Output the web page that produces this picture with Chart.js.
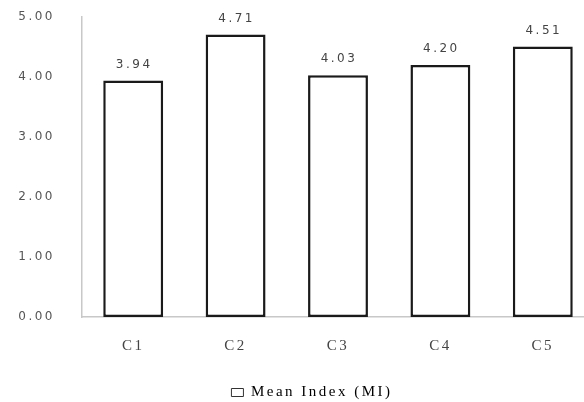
<!DOCTYPE html>
<html>
<head>
<meta charset="utf-8">
<script src="https://cdn.jsdelivr.net/npm/chart.js@4"></script>
<style>
  html, body { margin: 0; padding: 0; background: #fff; overflow: hidden; }
  #wrap { width: 624px; height: 410px; }
</style>
</head>
<body>
<div id="wrap"><canvas id="grafico"></canvas></div>
<script>
const categorias = ['C1', 'C2', 'C3', 'C4', 'C5'];
const valores = [3.94, 4.71, 4.03, 4.20, 4.51];
const etiquetaSerie = 'Mean Index (MI)';
const ticksY = [0, 1, 2, 3, 4, 5];

const SANS = '"DejaVu Sans", Verdana, sans-serif';
const SERIF = '"Liberation Serif", "Times New Roman", serif';
const ESPACIADO = '2.5px';

// texto espaciado en todo el gráfico (también al medir)
const espaciado = {
  id: 'espaciado',
  beforeUpdate(chart) { chart.ctx.letterSpacing = ESPACIADO; },
  beforeDraw(chart) { chart.ctx.letterSpacing = ESPACIADO; },
};

// valores encima de cada barra
const etiquetasBarras = {
  id: 'etiquetasBarras',
  afterDatasetsDraw(chart) {
    const { ctx } = chart;
    const meta = chart.getDatasetMeta(0);
    ctx.save();
    ctx.letterSpacing = ESPACIADO;
    ctx.font = '12px ' + SANS;
    ctx.fillStyle = '#444';
    ctx.textAlign = 'center';
    ctx.textBaseline = 'middle';
    meta.data.forEach((bar, i) => {
      ctx.fillText(valores[i].toFixed(2), bar.x + 1, bar.y - 16);
    });
    ctx.restore();
  },
};

new Chart(document.getElementById('grafico'), {
  type: 'bar',
  data: {
    labels: categorias,
    datasets: [{
      label: etiquetaSerie,
      data: valores,
      backgroundColor: '#ffffff',
      borderColor: '#1a1a1a',
      borderWidth: 2.5,
      borderSkipped: false,
      barPercentage: 0.585,
      categoryPercentage: 1,
    }],
  },
  options: {
    responsive: true,
    maintainAspectRatio: false,
    animation: false,
    layout: { padding: { top: 17, left: 0, right: 0, bottom: 0 } },
    plugins: {
      tooltip: { enabled: false },
      legend: {
        position: 'bottom',
        labels: {
          font: { family: SERIF, size: 15 },
          color: '#222',
          boxWidth: 12,
          boxHeight: 8,
          padding: 6,
          generateLabels() {
            return [{
              text: etiquetaSerie,
              fillStyle: '#ffffff',
              strokeStyle: '#333',
              lineWidth: 1,
              datasetIndex: 0,
            }];
          },
        },
      },
    },
    scales: {
      x: {
        grid: { display: false, drawTicks: false },
        border: { color: '#c8c8c8', width: 1.5 },
        ticks: { font: { family: SERIF, size: 15 }, color: '#444', padding: 20 },
        afterFit(scale) { scale.height = 62; },
      },
      y: {
        min: 0,
        max: 5,
        afterBuildTicks(scale) { scale.ticks = ticksY.map(v => ({ value: v })); },
        grid: { display: false, drawTicks: false },
        border: { color: '#c8c8c8', width: 1.5 },
        ticks: {
          font: { family: SANS, size: 12 },
          color: '#555',
          padding: 27,
          callback: v => Number(v).toFixed(2),
        },
        afterFit(scale) {
          scale.width = 82;
          // sin reserva extra arriba/abajo por el padding de las etiquetas
          scale.paddingTop = 0;
          scale.paddingBottom = 0;
        },
      },
      // eje vacío a la derecha para dejar el área de barras en 594px
      relleno: {
        position: 'right',
        display: true,
        grid: { display: false, drawTicks: false },
        border: { display: false },
        ticks: { display: false },
        afterFit(scale) { scale.width = 30; },
      },
    },
  },
  plugins: [espaciado, etiquetasBarras],
});
</script>
</body>
</html>
